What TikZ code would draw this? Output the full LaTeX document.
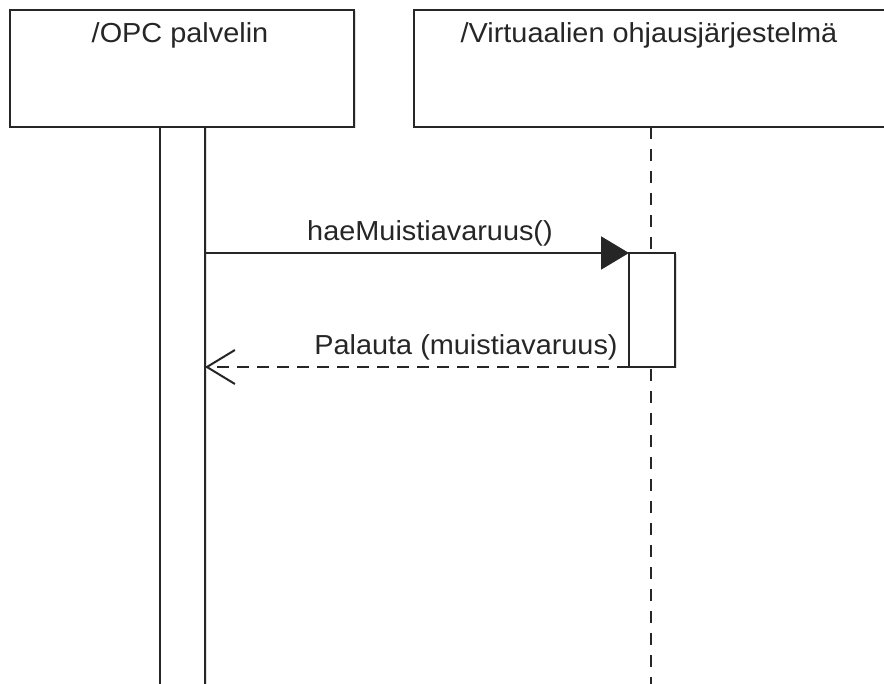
\documentclass[tikz,border=0pt]{standalone}
\usepackage{fontspec}
\setmainfont{Liberation Sans}[FakeStretch=1.05]
\usetikzlibrary{arrows.meta,shadows}
\begin{document}
\begin{tikzpicture}[x=1pt,y=-1pt, line width=2pt,
  box/.style={draw=black!85, fill=white, inner sep=0pt, outer sep=0pt, anchor=north west,
    drop shadow={shadow xshift=1.5pt, shadow yshift=-1.5pt, opacity=.25}},
  txt/.style={font=\fontsize{27.5}{32}\selectfont, text=black!85, inner sep=0pt, anchor=base},
  lifeline/.style={draw=black!85, dash pattern=on 12pt off 10pt},
  retmsg/.style={draw=black!85, dash pattern=on 12pt off 8pt, -{Straight Barb[length=28pt,width=34pt]}},
  callmsg/.style={draw=black!85, -{Triangle[length=28pt,width=33pt]}}]
\useasboundingbox (0,0) rectangle (884,684);
\clip (0,0) rectangle (884,684);
\fill[white] (0,0) rectangle (884,684);
% headers
\node[box, minimum width=344pt, minimum height=117pt] (opc) at (10,10) {};
\node[box, minimum width=474pt, minimum height=117pt] (vos) at (414,10) {};
\node[txt] (opct) at (180,43) {/OPC palvelin};
\node[txt] (vost) at (649,43) {/Virtuaalien ohjausjärjestelmä};
% lifelines
\coordinate (lifeEnd) at (651,700);
\draw[lifeline] (vos.south) -- (vos.south |- lifeEnd);
\node[box, minimum width=45pt, minimum height=580pt] (actL) at (160,127) {};
\node[box, minimum width=46pt, minimum height=114pt] (actR) at (629,253) {};
% messages
\draw[callmsg] (actL.east |- actR.north west) -- (actR.north west);
\node[txt] (m1) at (430,241) {haeMuistiavaruus()};
\draw[retmsg] (actR.south west) -- (actL.east |- actR.south west);
\node[txt] (m2) at (466,355) {Palauta (muistiavaruus)};
\end{tikzpicture}
\end{document}
